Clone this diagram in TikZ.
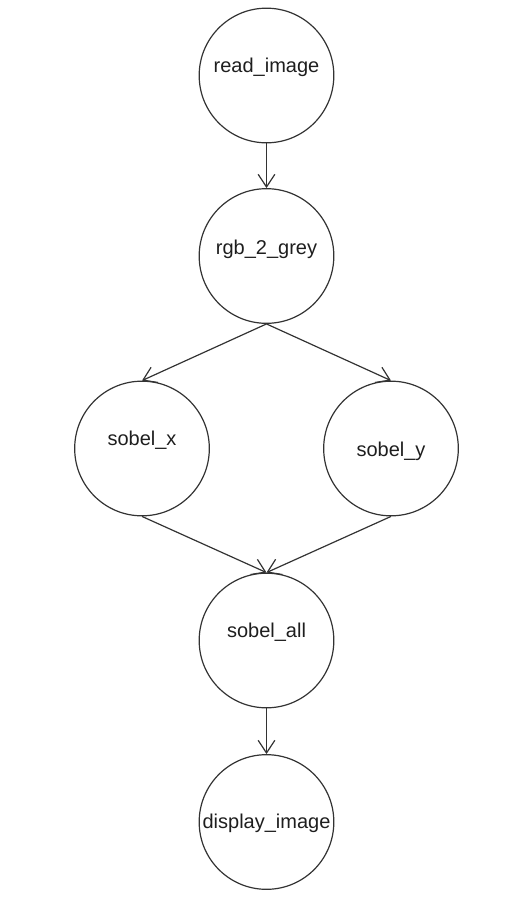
\documentclass[tikz,border=0pt]{standalone}
\usepackage{fontspec}
\setmainfont{Liberation Sans}
\usetikzlibrary{arrows.meta}

\definecolor{lineGrey}{RGB}{51,51,51}
\definecolor{textGrey}{RGB}{30,30,30}

\tikzset{every picture/.style={line width=0.9pt}}
\tikzset{
  task/.style={circle, draw=lineGrey, minimum size=101pt, inner sep=0pt},
  tasklabel/.style={text=textGrey, font=\fontsize{15}{18}\selectfont, inner sep=0.75pt},
  flow/.style={draw=lineGrey, -{Straight Barb[length=9.5pt,width=12.5pt]}}
}

\begin{document}
\begin{tikzpicture}[x=0.75pt,y=0.75pt,yscale=-1,xscale=1]
\useasboundingbox (0,0) rectangle (506,904);

%Task circles
\node [task, label={[tasklabel, yshift=6.4pt]center:read\_image}] (read) at (266.5,75.5) {};
\node [task, label={[tasklabel, yshift=5pt]center:rgb\_2\_grey}] (grey) at (266.5,256) {};
\node [task, label={[tasklabel, yshift=6.4pt]center:sobel\_x}] (sobx) at (142,448.5) {};
\node [task, label={[tasklabel, yshift=-1.9pt]center:sobel\_y}] (soby) at (391,448.5) {};
\node [task, label={[tasklabel, yshift=6.4pt]center:sobel\_all}] (soball) at (266.5,640.5) {};
\node [task, label={[tasklabel, yshift=-0.75pt]center:display\_image}] (disp) at (266.5,822) {};

%Flow edges
\draw [flow] (read.south) -- (grey.north);
\draw [flow] (grey.south) -- (sobx.north);
\draw [flow] (grey.south) -- (soby.north);
\draw [flow] (sobx.south) -- (soball.north);
\draw [flow] (soby.south) -- (soball.north);
\draw [flow] (soball.south) -- (disp.north);

\end{tikzpicture}
\end{document}
